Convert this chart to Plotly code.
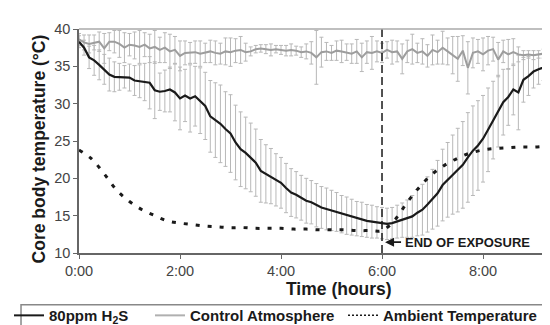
import plotly.graph_objects as go

# ---- data ----
time_h = [round(i * 0.1, 1) for i in range(95)]  # sample times (hours)

h2s_mean = [38.3, 37.5, 36.2, 35.8, 35.2, 34.6, 33.9, 33.6, 33.6, 33.6,
            33.5, 33.1, 33.0, 32.9, 32.8, 31.8, 31.6, 31.7, 31.9, 31.5,
            30.7, 31.1, 30.7, 31.0, 30.4, 29.7, 28.3, 27.8, 27.3, 26.6,
            26.0, 24.8, 23.9, 23.4, 22.8, 22.1, 21.0, 20.6, 20.3, 19.8,
            19.4, 18.7, 18.1, 17.8, 17.4, 17.0, 16.8, 16.4, 16.1, 15.9,
            15.7, 15.5, 15.2, 15.0, 14.8, 14.6, 14.5, 14.3, 14.2, 14.1,
            14.0, 13.9, 14.0, 14.2, 14.4, 14.6, 14.9, 15.4, 15.8, 16.5,
            17.2, 18.0, 19.1, 19.8, 20.5, 21.1, 21.8, 22.8, 23.7, 24.4,
            25.3, 26.5, 27.8, 29.0, 30.2, 30.9, 31.9, 31.5, 33.2, 33.7,
            34.3, 34.6, 34.9, 35.2, 35.4]

h2s_sd = [0.8, 1.0, 1.5, 2.0, 2.0, 2.0, 2.2, 2.0, 1.8, 1.5,
          1.8, 2.0, 2.2, 2.5, 3.5, 3.8, 2.5, 2.8, 3.0, 3.8,
          4.2, 3.5, 4.5, 4.0, 4.4, 4.5, 4.8, 5.0, 5.2, 5.0,
          5.2, 5.0, 5.0, 4.8, 4.6, 4.5, 4.2, 3.9, 3.7, 3.5,
          3.4, 3.3, 3.2, 3.1, 3.0, 3.0, 2.9, 2.9, 2.8, 2.8,
          2.7, 2.6, 2.5, 2.5, 2.4, 2.3, 2.3, 2.2, 2.2, 2.1,
          2.1, 2.1, 2.1, 2.2, 2.3, 2.5, 2.8, 3.1, 3.4, 3.7,
          4.0, 4.4, 4.8, 5.0, 5.3, 5.6, 5.8, 6.0, 6.0, 6.0,
          5.8, 5.6, 5.2, 4.8, 4.4, 3.8, 3.4, 5.0, 3.0, 2.6,
          2.2, 2.0, 1.8, 1.6, 1.5]

control_mean = [38.6, 38.2, 38.0, 38.2, 38.3, 37.4, 38.3, 38.3, 38.0, 37.5,
                37.9, 37.8, 37.6, 37.9, 37.4, 37.6, 37.2, 37.5, 37.0, 37.2,
                36.4, 36.8, 36.8, 36.9, 36.7, 36.8, 37.0, 36.8, 36.7, 37.0,
                36.9, 37.1, 37.2, 36.9, 37.0, 37.3, 37.4, 37.3, 37.2, 37.3,
                37.2, 37.1, 37.2, 37.1, 36.9, 37.0, 36.8, 36.2, 36.9, 37.0,
                36.8, 37.1, 37.0, 36.9, 36.7, 37.0, 36.2, 36.9, 36.8, 37.0,
                36.8, 37.2, 36.9, 37.0, 36.0, 37.0, 37.3, 36.8, 37.0, 36.4,
                37.2, 36.9, 37.5, 37.0, 36.5, 36.0, 37.1, 34.8, 36.8, 37.0,
                36.6, 37.1, 37.3, 35.9, 37.0, 36.6, 36.9, 36.6, 36.5, 36.6,
                36.5, 36.6, 36.7, 36.5, 36.6]

control_sd = [0.8, 1.0, 1.2, 1.0, 1.3, 2.0, 1.2, 1.5, 1.8, 2.0,
              1.5, 1.8, 2.2, 1.6, 1.9, 2.2, 1.7, 2.0, 2.3, 1.8,
              2.0, 1.6, 1.4, 1.5, 1.7, 1.3, 1.5, 1.6, 1.4, 1.8,
              1.9, 1.6, 1.8, 1.2, 0.6, 0.5, 0.5, 0.6, 0.8, 0.5,
              0.6, 0.7, 0.8, 0.6, 0.7, 1.0, 1.5, 3.6, 2.0, 1.2,
              1.0, 1.3, 1.5, 1.1, 1.3, 1.6, 1.9, 1.5, 2.2, 1.4,
              1.3, 1.1, 1.6, 1.4, 2.0, 1.5, 2.0, 1.3, 1.7, 1.5,
              2.0, 1.6, 2.2, 1.8, 2.5, 3.0, 2.0, 3.5, 2.0, 1.6,
              2.2, 1.9, 1.6, 2.3, 1.5, 2.0, 1.8, 1.0, 0.6, 0.5,
              0.6, 0.5, 0.6, 0.5, 0.5]

ambient_time = [0.0, 0.25, 0.5, 0.75, 1.0, 1.25, 1.5, 1.75, 2.0, 2.25,
                2.5, 2.75, 3.0, 3.25, 3.5, 3.75, 4.0, 4.25, 4.5, 4.75,
                5.0, 5.25, 5.5, 5.75, 6.0, 6.25, 6.5, 6.75, 7.0, 7.25,
                7.5, 7.75, 8.0, 8.25, 8.5, 8.75, 9.0, 9.25, 9.45]
ambient_temp = [23.8, 22.6, 20.6, 18.4, 16.9, 15.8, 15.0, 14.3, 14.0, 13.8,
                13.6, 13.5, 13.4, 13.4, 13.3, 13.3, 13.3, 13.2, 13.2, 13.1,
                13.1, 13.1, 13.0, 13.0, 13.0, 14.4, 16.8, 18.9, 20.6, 21.8,
                22.7, 23.4, 23.8, 24.0, 24.1, 24.2, 24.2, 24.3, 24.3]

exposure_end = 6.0
x_tick_vals = [0, 2, 4, 6, 8]
x_tick_text = ["0:00", "2:00", "4:00", "6:00", "8:00"]
y_tick_vals = [10, 15, 20, 25, 30, 35, 40]

series_names = ["80ppm H<sub>2</sub>S", "Control Atmosphere", "Ambient Temperature"]

# ---- styles ----
BLACK = "#1a1a1a"
CTRL = "#9d9d9d"
ERR = "#b8b8b8"
FONT = "Liberation Sans, Arial, sans-serif"

fig = go.Figure()

fig.add_trace(go.Scatter(
    x=time_h, y=control_mean, mode="lines", line=dict(width=0, color=CTRL),
    error_y=dict(type="data", array=control_sd, color=ERR, thickness=1, width=2),
    showlegend=False, hoverinfo="skip"))
fig.add_trace(go.Scatter(
    x=time_h, y=h2s_mean, mode="lines", line=dict(width=0, color=BLACK),
    error_y=dict(type="data", array=h2s_sd, color=ERR, thickness=1, width=2),
    showlegend=False, hoverinfo="skip"))
fig.add_trace(go.Scatter(
    x=time_h, y=control_mean, mode="lines", line=dict(width=2, color=CTRL),
    showlegend=False))
fig.add_trace(go.Scatter(
    x=time_h, y=h2s_mean, mode="lines", line=dict(width=2.2, color=BLACK),
    showlegend=False))
fig.add_trace(go.Scatter(
    x=ambient_time, y=ambient_temp, mode="lines", line_shape="spline",
    line=dict(width=3, color=BLACK, dash="4px,8px"),
    showlegend=False))

# legend entries (one legend each, positioned like the reference)
leg_font = dict(family=FONT, size=15, color=BLACK, weight="bold")
fig.add_trace(go.Scatter(x=[None], y=[None], mode="lines", name=series_names[0],
                         line=dict(width=2, color=BLACK), legend="legend"))
fig.add_trace(go.Scatter(x=[None], y=[None], mode="lines", name=series_names[1],
                         line=dict(width=2, color="#b0b0b0"), legend="legend2"))
fig.add_trace(go.Scatter(x=[None], y=[None], mode="lines", name=series_names[2],
                         line=dict(width=1.5, color=BLACK, dash="2px,2px"), legend="legend3"))

# legend frame
fig.add_shape(type="rect", xref="paper", yref="paper", x0=-0.1213, x1=1.01,
              y0=-0.2314, y1=-0.36, line=dict(color="#888888", width=1.5),
              fillcolor="rgba(0,0,0,0)", layer="above")

# end of exposure marker
fig.add_shape(type="line", x0=exposure_end, x1=exposure_end, yref="paper", y0=0, y1=1,
              line=dict(color=BLACK, width=1.5, dash="8px,4px"))
fig.add_shape(type="line", xref="paper", x0=0, x1=1, yref="paper", y0=1, y1=1,
              line=dict(color="#aaaaaa", width=1.5))
fig.add_annotation(x=exposure_end + 0.06, y=11.45, ax=16, ay=0, xanchor="left",
                   text="", showarrow=True, arrowhead=2, arrowsize=1, arrowwidth=1.8,
                   arrowcolor=BLACK, standoff=0, startstandoff=0)
fig.add_annotation(x=exposure_end + 0.42, y=11.45, xanchor="left", yanchor="middle",
                   text="<b>END OF EXPOSURE</b>", showarrow=False,
                   font=dict(family=FONT, size=13, color=BLACK))

# axis titles
fig.add_annotation(xref="paper", yref="paper", x=0.544, y=-0.162, xanchor="center",
                   yanchor="middle", text="<b>Time (hours)</b>", showarrow=False,
                   font=dict(family=FONT, size=17.5, color=BLACK))
fig.add_annotation(xref="paper", yref="paper", x=-0.0837, y=0.467, xanchor="center",
                   yanchor="middle", textangle=-90, text="<b>Core body temperature (°C)</b>",
                   showarrow=False, font=dict(family=FONT, size=17.5, color=BLACK))

leg_common = dict(orientation="h", xanchor="left", yanchor="middle", y=-0.2795,
                  borderwidth=0, bgcolor="rgba(0,0,0,0)", font=leg_font, itemwidth=30)

fig.update_layout(
    width=550, height=325,
    margin=dict(l=71, r=1, t=21, b=75),
    paper_bgcolor="white", plot_bgcolor="white",
    font=dict(family=FONT, color="#444444", size=14.5),
    legend=dict(x=-0.1464, **leg_common),
    legend2=dict(x=0.1485, **leg_common),
    legend3=dict(x=0.5523, **leg_common),
    xaxis=dict(range=[0, 9.465], tickvals=x_tick_vals, ticktext=x_tick_text,
               showgrid=False, zeroline=False, showline=True, linecolor="#666666",
               linewidth=1.5, ticks="outside", ticklen=4, tickcolor="#666666",
               tickfont=dict(size=14.5, color="#444444")),
    yaxis=dict(range=[10, 40], tickvals=y_tick_vals, showgrid=False, zeroline=False,
               showline=True, linecolor="#666666", linewidth=1.5, ticks="outside",
               ticklen=4, tickcolor="#666666", tickfont=dict(size=14.5, color="#444444")),
)

fig.write_html("out.html")
